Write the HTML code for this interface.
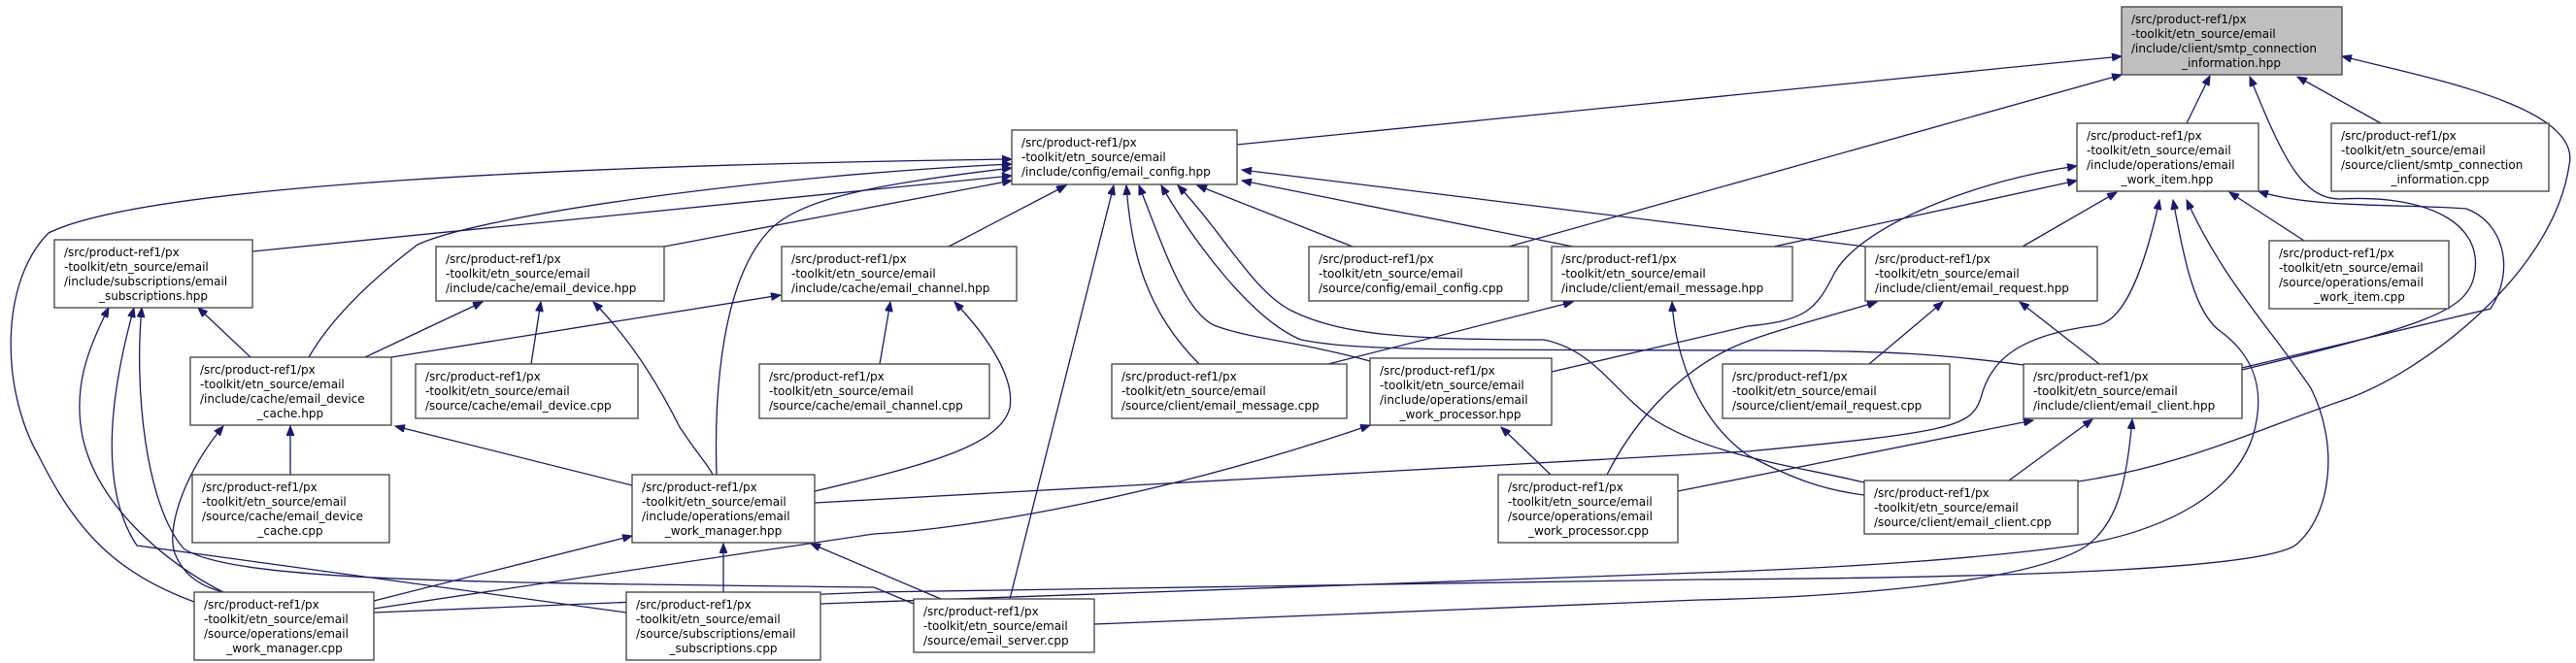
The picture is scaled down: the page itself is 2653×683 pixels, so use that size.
<!DOCTYPE html>
<html><head><meta charset="utf-8"><style>
html,body{margin:0;padding:0;background:#fff;}
svg{display:block;}
text{font-family:"DejaVu Sans","Liberation Sans",sans-serif;font-size:12px;fill:#000;}
.e{fill:none;stroke:#191970;stroke-width:1.3;marker-start:url(#a);}
.n{fill:#fff;stroke:#404040;stroke-width:1.3;}
</style></head><body>
<svg width="2653" height="683" viewBox="0 0 2653 683" xmlns="http://www.w3.org/2000/svg">
<defs><marker id="a" markerWidth="11" markerHeight="8" refX="10" refY="4" orient="auto-start-reverse" markerUnits="userSpaceOnUse"><path d="M0,0 L10,4 L0,8 z" fill="#191970" stroke="#191970"/></marker></defs>
<g>
<path class="e" d="M2185,58 L1274,149"/>
<path class="e" d="M2185,77 L1554,254"/>
<path class="e" d="M2276,78 L2252,127"/>
<path class="e" d="M2317,79 C2350,160 2370,205 2410,205 C2500,200 2560,230 2548,285 C2540,320 2500,335 2309,381"/>
<path class="e" d="M2366,79 L2452,127"/>
<path class="e" d="M2412,58 C2500,80 2660,110 2646,170 C2630,280 2500,380 2420,410 C2330,440 2250,480 2140,496"/>
<path class="e" d="M2180,198 L2083,254"/>
<path class="e" d="M2296,198 L2373,248"/>
<path class="e" d="M2326,197 C2380,215 2480,210 2540,215 C2580,230 2590,280 2565,318 L2309,379"/>
<path class="e" d="M2139,186 L1827,254"/>
<path class="e" d="M2139,171 C2040,185 1920,230 1890,280 C1870,320 1860,330 1800,336 L1598,383"/>
<path class="e" d="M2224,206 C2210,270 2190,330 2160,335 C2080,345 2050,370 2040,410 C2030,440 2010,445 1800,465 L839,518"/>
<path class="e" d="M2238,206 C2250,270 2260,320 2285,340 C2320,365 2335,400 2320,450 C2300,510 2230,545 2150,560 C2050,575 1900,585 1750,590 L845,622"/>
<path class="e" d="M2252,206 C2290,290 2340,340 2380,400 C2410,460 2400,530 2366,560 C2340,585 2100,595 1750,597 L900,610 L385,631"/>
<path class="e" d="M2155,432 L2069,495"/>
<path class="e" d="M2196,432 C2190,500 2180,540 2148,563 C2090,600 1900,615 1750,618 L1127,643"/>
<path class="e" d="M2094,433 L1728,506"/>
<path class="e" d="M1196,191 C1230,250 1290,330 1340,350 C1400,362 1500,360 1800,361 C1950,361 2000,365 2084,376"/>
<path class="e" d="M1213,191 C1260,240 1290,300 1330,320 C1380,345 1450,350 1590,350 C1640,360 1660,400 1700,430 C1760,470 1850,480 1920,497"/>
<path class="e" d="M1722,311 C1725,360 1745,430 1800,469 C1850,495 1880,505 1920,510"/>
<path class="e" d="M1279,175 L1921,254"/>
<path class="e" d="M1279,186 L1620,254"/>
<path class="e" d="M1233,191 L1393,254"/>
<path class="e" d="M1098,191 L977,254"/>
<path class="e" d="M1147,191 L1040,617"/>
<path class="e" d="M1160,191 C1165,260 1180,320 1235,375"/>
<path class="e" d="M1173,191 C1200,260 1220,320 1250,335 C1290,350 1330,350 1411,372"/>
<path class="e" d="M1042,164 C600,170 150,190 50,240 C0,290 0,400 40,470 C80,550 120,590 200,620"/>
<path class="e" d="M1042,169 C800,180 500,220 430,252 C380,290 340,330 318,368"/>
<path class="e" d="M1042,173 C900,190 820,205 790,240 C745,290 735,400 738,489"/>
<path class="e" d="M1042,181 L260,259"/>
<path class="e" d="M1042,186 L684,254"/>
<path class="e" d="M497,311 L376,368"/>
<path class="e" d="M557,311 L547,375"/>
<path class="e" d="M611,311 C650,350 680,400 700,440 C720,470 730,480 734,489"/>
<path class="e" d="M804,304 L403,368"/>
<path class="e" d="M917,311 L906,375"/>
<path class="e" d="M983,311 C1020,350 1045,390 1040,420 C1030,460 950,480 839,506"/>
<path class="e" d="M204,317 L258,368"/>
<path class="e" d="M112,317 C90,360 75,400 85,450 C100,520 170,580 230,610"/>
<path class="e" d="M138,317 C115,400 100,500 141,562 L645,631"/>
<path class="e" d="M146,317 C138,400 150,520 189,565 C240,600 500,600 900,605 L941,622"/>
<path class="e" d="M230,439 C195,480 170,540 180,570 C190,595 210,605 230,610"/>
<path class="e" d="M299,439 L299,489"/>
<path class="e" d="M407,439 L651,500"/>
<path class="e" d="M651,552 L385,619"/>
<path class="e" d="M745,560 L745,610"/>
<path class="e" d="M835,560 L969,617"/>
<path class="e" d="M1411,438 C1200,510 1000,545 900,550 L385,627"/>
<path class="e" d="M1546,440 L1597,489"/>
<path class="e" d="M1620,311 L1368,375"/>
<path class="e" d="M1933,311 C1870,330 1810,345 1780,360 C1720,390 1680,440 1655,489"/>
<path class="e" d="M2001,311 L1925,375"/>
<path class="e" d="M2080,311 L2162,375"/>
</g>
<g>
<rect x="2185" y="7" width="227" height="70" fill="#bfbfbf" stroke="#404040" stroke-width="1.3"/>
<text x="2195" y="24">/src/product-ref1/px</text><text x="2195" y="39">-toolkit/etn_source/email</text><text x="2195" y="54">/include/client/smtp_connection</text><text x="2298" y="69" text-anchor="middle">_information.hpp</text>

<rect class="n" x="2139" y="127" width="187" height="70"/>
<text x="2149" y="144">/src/product-ref1/px</text><text x="2149" y="159">-toolkit/etn_source/email</text><text x="2149" y="174">/include/operations/email</text><text x="2232" y="189" text-anchor="middle">_work_item.hpp</text>

<rect class="n" x="2401" y="127" width="224" height="70"/>
<text x="2411" y="144">/src/product-ref1/px</text><text x="2411" y="159">-toolkit/etn_source/email</text><text x="2411" y="174">/source/client/smtp_connection</text><text x="2513" y="189" text-anchor="middle">_information.cpp</text>

<rect class="n" x="1042" y="134" width="232" height="56"/>
<text x="1052" y="151">/src/product-ref1/px</text><text x="1052" y="166">-toolkit/etn_source/email</text><text x="1052" y="181">/include/config/email_config.hpp</text>

<rect class="n" x="2337" y="248" width="185" height="70"/>
<text x="2347" y="265">/src/product-ref1/px</text><text x="2347" y="280">-toolkit/etn_source/email</text><text x="2347" y="295">/source/operations/email</text><text x="2430" y="310" text-anchor="middle">_work_item.cpp</text>

<rect class="n" x="56" y="247" width="204" height="70"/>
<text x="66" y="264">/src/product-ref1/px</text><text x="66" y="279">-toolkit/etn_source/email</text><text x="66" y="294">/include/subscriptions/email</text><text x="158" y="309" text-anchor="middle">_subscriptions.hpp</text>

<rect class="n" x="449" y="254" width="235" height="56"/>
<text x="459" y="271">/src/product-ref1/px</text><text x="459" y="286">-toolkit/etn_source/email</text><text x="459" y="301">/include/cache/email_device.hpp</text>

<rect class="n" x="805" y="254" width="242" height="56"/>
<text x="815" y="271">/src/product-ref1/px</text><text x="815" y="286">-toolkit/etn_source/email</text><text x="815" y="301">/include/cache/email_channel.hpp</text>

<rect class="n" x="1348" y="254" width="226" height="56"/>
<text x="1358" y="271">/src/product-ref1/px</text><text x="1358" y="286">-toolkit/etn_source/email</text><text x="1358" y="301">/source/config/email_config.cpp</text>

<rect class="n" x="1598" y="254" width="248" height="56"/>
<text x="1608" y="271">/src/product-ref1/px</text><text x="1608" y="286">-toolkit/etn_source/email</text><text x="1608" y="301">/include/client/email_message.hpp</text>

<rect class="n" x="1921" y="254" width="239" height="56"/>
<text x="1931" y="271">/src/product-ref1/px</text><text x="1931" y="286">-toolkit/etn_source/email</text><text x="1931" y="301">/include/client/email_request.hpp</text>

<rect class="n" x="196" y="368" width="207" height="70"/>
<text x="206" y="385">/src/product-ref1/px</text><text x="206" y="400">-toolkit/etn_source/email</text><text x="206" y="415">/include/cache/email_device</text><text x="299" y="430" text-anchor="middle">_cache.hpp</text>

<rect class="n" x="428" y="375" width="229" height="56"/>
<text x="438" y="392">/src/product-ref1/px</text><text x="438" y="407">-toolkit/etn_source/email</text><text x="438" y="422">/source/cache/email_device.cpp</text>

<rect class="n" x="782" y="375" width="237" height="56"/>
<text x="792" y="392">/src/product-ref1/px</text><text x="792" y="407">-toolkit/etn_source/email</text><text x="792" y="422">/source/cache/email_channel.cpp</text>

<rect class="n" x="1145" y="375" width="242" height="56"/>
<text x="1155" y="392">/src/product-ref1/px</text><text x="1155" y="407">-toolkit/etn_source/email</text><text x="1155" y="422">/source/client/email_message.cpp</text>

<rect class="n" x="1411" y="369" width="187" height="69"/>
<text x="1421" y="386">/src/product-ref1/px</text><text x="1421" y="401">-toolkit/etn_source/email</text><text x="1421" y="416">/include/operations/email</text><text x="1504" y="431" text-anchor="middle">_work_processor.hpp</text>

<rect class="n" x="1774" y="375" width="234" height="56"/>
<text x="1784" y="392">/src/product-ref1/px</text><text x="1784" y="407">-toolkit/etn_source/email</text><text x="1784" y="422">/source/client/email_request.cpp</text>

<rect class="n" x="2084" y="375" width="225" height="56"/>
<text x="2094" y="392">/src/product-ref1/px</text><text x="2094" y="407">-toolkit/etn_source/email</text><text x="2094" y="422">/include/client/email_client.hpp</text>

<rect class="n" x="198" y="489" width="203" height="70"/>
<text x="208" y="506">/src/product-ref1/px</text><text x="208" y="521">-toolkit/etn_source/email</text><text x="208" y="536">/source/cache/email_device</text><text x="299" y="551" text-anchor="middle">_cache.cpp</text>

<rect class="n" x="651" y="489" width="188" height="70"/>
<text x="661" y="506">/src/product-ref1/px</text><text x="661" y="521">-toolkit/etn_source/email</text><text x="661" y="536">/include/operations/email</text><text x="745" y="551" text-anchor="middle">_work_manager.hpp</text>

<rect class="n" x="1543" y="489" width="185" height="70"/>
<text x="1553" y="506">/src/product-ref1/px</text><text x="1553" y="521">-toolkit/etn_source/email</text><text x="1553" y="536">/source/operations/email</text><text x="1636" y="551" text-anchor="middle">_work_processor.cpp</text>

<rect class="n" x="1920" y="495" width="220" height="55"/>
<text x="1930" y="512">/src/product-ref1/px</text><text x="1930" y="527">-toolkit/etn_source/email</text><text x="1930" y="542">/source/client/email_client.cpp</text>

<rect class="n" x="200" y="610" width="185" height="70"/>
<text x="210" y="627">/src/product-ref1/px</text><text x="210" y="642">-toolkit/etn_source/email</text><text x="210" y="657">/source/operations/email</text><text x="293" y="672" text-anchor="middle">_work_manager.cpp</text>

<rect class="n" x="645" y="610" width="200" height="70"/>
<text x="655" y="627">/src/product-ref1/px</text><text x="655" y="642">-toolkit/etn_source/email</text><text x="655" y="657">/source/subscriptions/email</text><text x="745" y="672" text-anchor="middle">_subscriptions.cpp</text>

<rect class="n" x="941" y="617" width="186" height="55"/>
<text x="951" y="634">/src/product-ref1/px</text><text x="951" y="649">-toolkit/etn_source/email</text><text x="951" y="664">/source/email_server.cpp</text>
</g>
</svg>
</body></html>
